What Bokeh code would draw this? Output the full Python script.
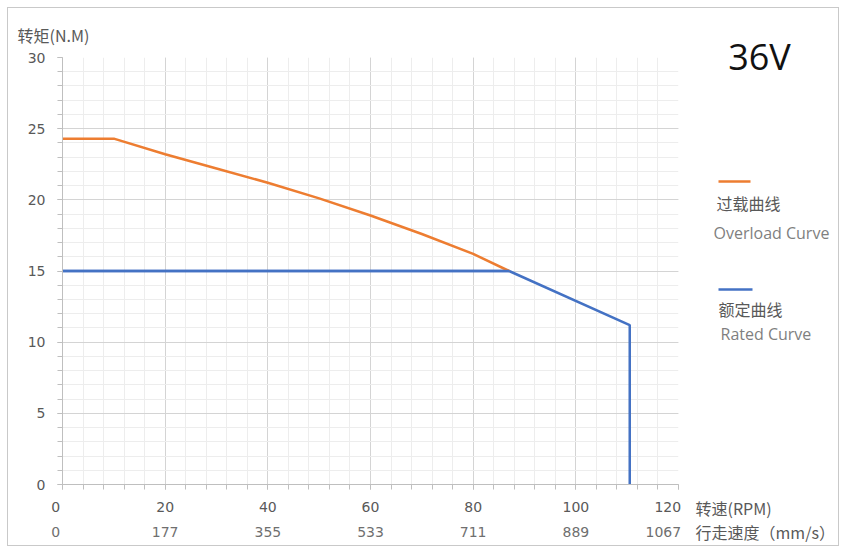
from bokeh.plotting import figure
from bokeh.models import (Range1d, LinearAxis, FixedTicker, Label, Arrow, Grid, Title)
from bokeh.layouts import row
from bokeh.embed import file_html
from bokeh.resources import INLINE

# ---- data ----
overload_rpm = [0, 10, 20, 30, 40, 50, 60, 70, 80, 87]
overload_torque = [24.3, 24.3, 23.2, 22.2, 21.2, 20.1, 18.9, 17.6, 16.2, 15.0]
rated_rpm = [0, 87, 110.5, 110.5]
rated_torque = [15.0, 15.0, 11.2, 0.0]
rpm_ticks = [0, 20, 40, 60, 80, 100, 120]
speed_labels = ["0", "177", "355", "533", "711", "889", "1067"]
torque_ticks = [0, 5, 10, 15, 20, 25, 30]

ORANGE = "#ED7D31"
BLUE = "#4472C4"
GRAY_TXT = "#595959"
FONT = "DejaVu Sans"
CJK = "Noto Sans CJK SC"
NB = "\u00a0"

# ---------------- main chart ----------------
MAIN_W, H = 686, 537
p = figure(width=MAIN_W, height=H, output_backend="svg", toolbar_location=None,
           x_range=Range1d(0, 120), y_range=Range1d(0, 30),
           min_border_left=54, min_border_right=16, min_border_top=49,
           min_border_bottom=61, x_axis_location=None, y_axis_location=None)
p.outline_line_color = None
p.background_fill_color = "white"
p.border_fill_color = "white"

p.add_layout(Title(text="转矩(N.M)", align="left", offset=-45, text_font=CJK,
                   text_font_size="16px", text_font_style="normal",
                   text_color=GRAY_TXT, standoff=22), "above")

yax = LinearAxis(ticker=FixedTicker(ticks=torque_ticks,
                                    minor_ticks=list(range(0, 31))))
xax = LinearAxis(ticker=FixedTicker(ticks=rpm_ticks,
                                    minor_ticks=list(range(0, 121, 4))),
                 major_label_overrides={0: "0" + NB * 3, 120: "120" + NB * 3})
xax2 = LinearAxis(ticker=FixedTicker(ticks=rpm_ticks),
                  major_label_overrides={t: s for t, s in zip(rpm_ticks, speed_labels)})
xax2.major_label_overrides[0] = "0" + NB * 3
xax2.major_label_overrides[120] = "1067" + NB * 3
for ax in (yax, xax, xax2):
    ax.axis_line_color = "#bfbfbf"
    ax.major_tick_line_color = "#bfbfbf"
    ax.minor_tick_line_color = "#bfbfbf"
    ax.major_tick_in = 0
    ax.major_tick_out = 5
    ax.minor_tick_in = 0
    ax.minor_tick_out = 5
    ax.major_label_text_color = GRAY_TXT
    ax.major_label_text_font = FONT
    ax.major_label_text_font_size = "14px"
yax.major_label_standoff = 12
xax.major_label_standoff = 9
xax2.axis_line_color = None
xax2.major_tick_line_color = None
xax2.minor_tick_line_color = None
xax2.major_label_standoff = 1
xax2.major_label_text_color = "#6f6f6f"
p.add_layout(yax, "left")
p.add_layout(xax, "below")
p.add_layout(xax2, "below")

gx = Grid(dimension=0, ticker=xax.ticker, grid_line_color="#d4d4d4",
          minor_grid_line_color="#ededed")
gy = Grid(dimension=1, ticker=yax.ticker, grid_line_color="#d4d4d4",
          minor_grid_line_color="#ededed")
p.add_layout(gx, "center")
p.add_layout(gy, "center")

p.line(rated_rpm, rated_torque, line_color=BLUE, line_width=2.5)
p.line(overload_rpm, overload_torque, line_color=ORANGE, line_width=2.5)
p.line(rated_rpm[:2], rated_torque[:2], line_color=BLUE, line_width=2.5)

# ---------------- right side panel (legend, labels) ----------------
SIDE_W = 830 - MAIN_W
s = figure(width=SIDE_W, height=H, output_backend="svg", toolbar_location=None,
           x_range=Range1d(0, SIDE_W), y_range=Range1d(H, 0),
           min_border=0, x_axis_location=None, y_axis_location=None)
s.frame_align = False
s.outline_line_color = None
s.grid.visible = False
s.background_fill_color = "white"
s.border_fill_color = "white"

OX, OY = 8 + MAIN_W, 8   # page offset of the side panel

def lab(text, px, py, size="16px", color=GRAY_TXT, font=CJK, align="left"):
    s.add_layout(Label(x=px - OX, y=py - OY, text=text, text_font=font,
                       text_font_size=size, text_color=color,
                       text_align=align, text_baseline="middle"))

def seg(x0, x1, py, color):
    s.add_layout(Arrow(x_start=x0 - OX, y_start=py - OY, x_end=x1 - OX, y_end=py - OY,
                       end=None, line_color=color, line_width=2.5))

lab("36V", 759, 56, size="36px", color="#111111", font="Open Sans", align="center")
seg(718, 750, 181, ORANGE)
seg(718, 752, 289, BLUE)
lab("过载曲线", 716, 202)
lab("Overload Curve", 713, 232, color="#7f7f7f", font="Open Sans")
lab("额定曲线", 718, 308)
lab("Rated Curve", 720, 333, color="#7f7f7f", font="Open Sans")
lab("转速(RPM)", 695, 507)
lab("行走速度（mm/s）", 695, 531)

layout = row(p, s)
layout.styles = {"border": "1px solid #c9c9c9", "margin-left": "7px", "margin-top": "7px"}

open("out.html", "w").write(file_html(layout, INLINE))
